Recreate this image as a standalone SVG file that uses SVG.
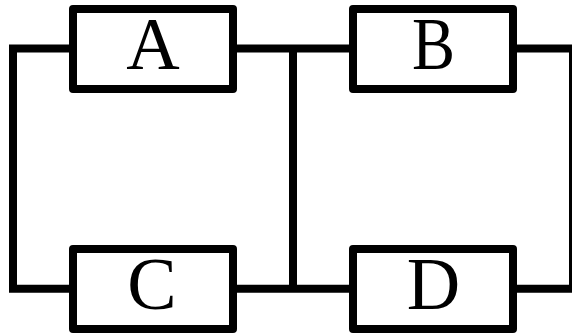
<svg xmlns="http://www.w3.org/2000/svg" width="572" height="333" viewBox="0 0 572 333">
<style>
.wire{fill:none;stroke:#000;stroke-width:8;stroke-linejoin:miter}
.box{fill:#fff;stroke:#000;stroke-width:8;stroke-linejoin:round}
.label{font-family:"Liberation Serif",serif;font-size:74px;text-anchor:middle;fill:#000}
</style>
<rect width="572" height="333" fill="#fff"/>
<g id="connectors">
<path class="wire" d="M73 48.5H13V288.7H73"/>
<path class="wire" d="M233 48.5H353"/>
<path class="wire" d="M233 288.7H353"/>
<path class="wire" d="M293 48.5V288.7"/>
<path class="wire" d="M513 48.5H573V288.7H513"/>
</g>
<g id="node-a"><rect class="box" x="73" y="9" width="160" height="80"/><text class="label" x="153" y="69">A</text></g>
<g id="node-b"><rect class="box" x="353" y="9" width="160" height="80"/><text class="label" x="433.5" y="69" textLength="43" lengthAdjust="spacingAndGlyphs">B</text></g>
<g id="node-c"><rect class="box" x="73" y="249" width="160" height="80"/><text class="label" x="152" y="309">C</text></g>
<g id="node-d"><rect class="box" x="353" y="249" width="160" height="80"/><text class="label" x="433.5" y="309">D</text></g>
</svg>
